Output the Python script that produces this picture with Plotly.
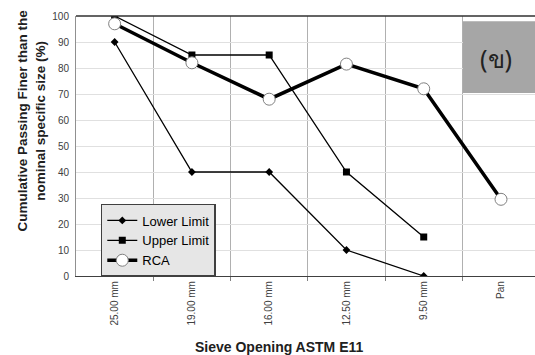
import plotly.graph_objects as go

categories = ["25.00 mm", "19.00 mm", "16.00 mm", "12.50 mm", "9.50 mm", "Pan"]
lower_limit = [90, 40, 40, 10, 0]
upper_limit = [100, 85, 85, 40, 15]
rca = [97, 82, 68, 81.5, 72, 29.5]
y_ticks = [0, 10, 20, 30, 40, 50, 60, 70, 80, 90, 100]

xpos = list(range(len(categories)))
FONT = "Liberation Sans, Arial, sans-serif"

fig = go.Figure()
fig.add_trace(go.Scatter(
    x=xpos[:len(lower_limit)], y=lower_limit, name="Lower Limit", mode="lines+markers",
    line=dict(color="black", width=1.3),
    marker=dict(symbol="diamond", size=6, color="black"),
))
fig.add_trace(go.Scatter(
    x=xpos[:len(upper_limit)], y=upper_limit, name="Upper Limit", mode="lines+markers",
    line=dict(color="black", width=1.3),
    marker=dict(symbol="square", size=7, color="black"),
))
fig.add_trace(go.Scatter(
    x=xpos[:len(rca)], y=rca, name="RCA", mode="lines+markers",
    line=dict(color="black", width=3.5),
    marker=dict(symbol="circle", size=12, color="white", line=dict(color="#808080", width=1)),
))

fig.update_layout(
    width=535, height=355,
    margin=dict(l=76, r=0, t=16, b=79),
    plot_bgcolor="white", paper_bgcolor="white",
    font=dict(family=FONT, color="#404040"),
    showlegend=True,
    legend=dict(
        x=0.054, y=0.277, xanchor="left", yanchor="top",
        bgcolor="#e6e6e6", bordercolor="#404040", borderwidth=1.5,
        font=dict(size=13, color="black", family=FONT),
        itemwidth=30, tracegroupgap=0,
    ),
)
fig.update_xaxes(
    range=[-0.5, 5.44],
    tickvals=xpos, ticktext=categories, tickangle=-90,
    tickfont=dict(size=10, color="#404040"),
    showgrid=False, zeroline=False,
    showline=True, linecolor="#404040", linewidth=1.2,
    ticks="",
    minor=dict(tickvals=[i + 0.5 for i in xpos], showgrid=True, gridcolor="#b0b0b0",
               gridwidth=1, ticks="outside", ticklen=4, tickcolor="#808080"),
    fixedrange=True,
)
fig.update_yaxes(
    range=[0, 100], tickvals=y_ticks,
    tickfont=dict(size=10, color="#404040"),
    showgrid=True, gridcolor="#e0e0e0", gridwidth=1,
    zeroline=False,
    showline=True, linecolor="#909090", linewidth=1,
    ticks="", ticklabelstandoff=4,
)

# top border
fig.add_shape(type="line", xref="paper", yref="paper", x0=0, x1=1, y0=1, y1=1,
              line=dict(color="#303030", width=1.5))
# gray label box
fig.add_shape(type="rect", xref="paper", yref="paper", x0=0.843, x1=1.0, y0=0.704, y1=0.98,
              fillcolor="#a6a6a6", line=dict(width=0), layer="above")
fig.add_annotation(xref="paper", yref="paper", x=0.955, y=0.91, text="(ข)", showarrow=False,
                   font=dict(size=25, color="#222222", family="Noto Sans, DejaVu Sans, sans-serif"))

# axis titles
fig.add_annotation(xref="paper", yref="paper", x=-0.097, y=0.6, xanchor="center", yanchor="middle",
                   text="<b>Cumulative Passing Finer than the<br>nominal specific size (%)</b>",
                   textangle=-90, showarrow=False,
                   font=dict(size=13.5, color="#202020", family=FONT))
fig.add_annotation(xref="paper", yref="paper", x=0.444, y=-0.274, xanchor="center", yanchor="middle",
                   text="<b>Sieve Opening ASTM E11</b>", showarrow=False,
                   font=dict(size=14, color="#202020", family=FONT))

fig.write_html("out.html")
